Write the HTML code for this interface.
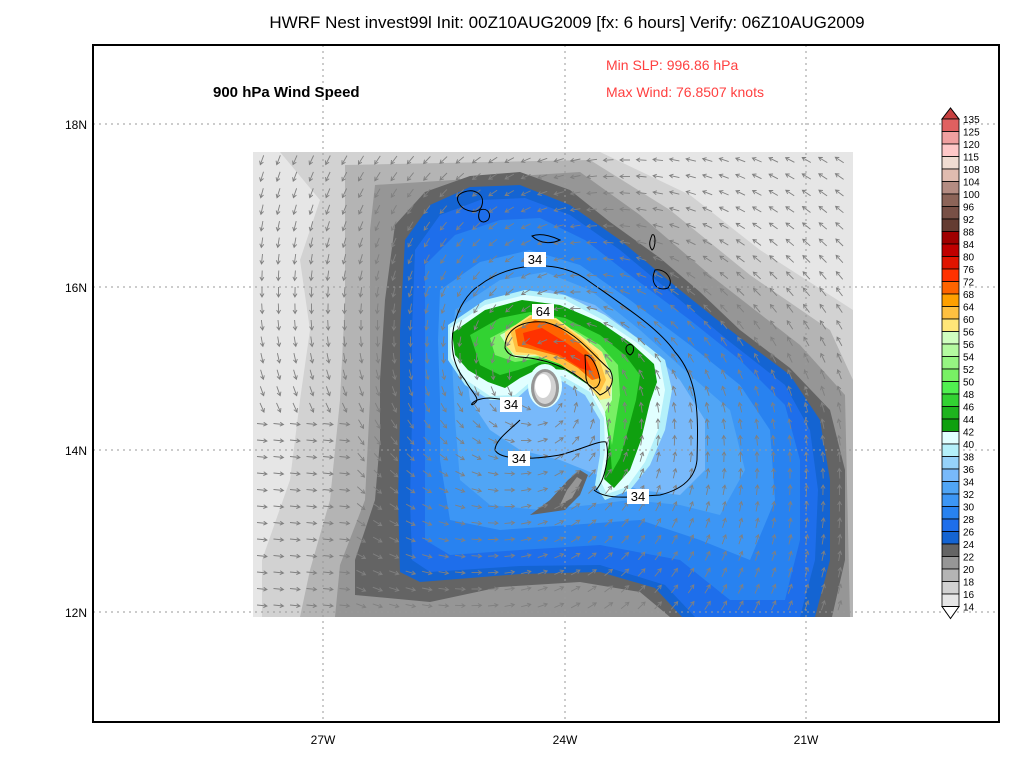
<!DOCTYPE html>
<html><head><meta charset="utf-8"><style>
body{margin:0;background:#fff;width:1024px;height:768px;overflow:hidden}
svg text{font-family:"Liberation Sans",sans-serif}
</style></head><body>
<svg id="s" width="1024" height="768" xmlns="http://www.w3.org/2000/svg">
<rect width="1024" height="768" fill="#fff"/>
<text x="567" y="28" font-size="17" text-anchor="middle">HWRF  Nest  invest99l  Init: 00Z10AUG2009  [fx: 6  hours]  Verify: 06Z10AUG2009</text>
<rect x="253" y="152" width="600" height="465" fill="#e6e6e6"/>
<polygon fill="#d2d2d2" points="280,152 600,152 690,195 760,250 853,310 853,617 262,617 262,560 290,480 300,400 310,330 300,260 320,200"/>
<polygon fill="#b4b4b4" points="345,165 590,160 670,210 750,275 830,330 853,380 853,617 300,617 310,570 330,500 340,400 345,300 345,230"/>
<polygon fill="#969696" points="375,185 580,172 640,215 710,275 800,345 845,395 850,617 335,617 340,565 365,500 370,400 370,300 370,230"/>
<polygon fill="#646464" points="395,225 425,192 470,176 520,172 570,190 610,222 660,258 700,292 740,330 790,368 830,410 845,470 845,560 832,617 670,617 640,592 580,582 500,587 430,602 355,595 355,560 375,500 380,440 380,380 385,300"/>
<polygon fill="#1464d2" points="405,240 430,205 470,187 520,185 570,205 620,240 680,290 730,330 790,375 820,420 830,480 830,560 815,617 682,617 655,588 600,572 520,574 420,582 400,572 398,500 400,420 400,330"/>
<polygon fill="#1e6eeb" points="415,250 440,215 480,200 525,198 570,215 620,250 680,300 730,342 785,385 810,430 818,490 815,560 800,617 695,617 665,585 600,565 520,566 430,572 412,560 410,500 412,420 412,330"/>
<polygon fill="#2882f0" points="425,265 455,235 500,220 540,218 585,240 630,275 690,320 740,360 785,405 800,460 800,540 785,600 730,600 680,560 600,545 520,550 450,555 425,540 425,470 425,400 425,330"/>
<polygon fill="#3c96f5" points="440,290 480,262 530,250 580,265 630,300 690,345 740,385 770,430 775,500 750,560 700,540 640,520 570,525 500,530 450,520 440,460 440,400 438,340"/>
<polygon fill="#50a5f5" points="455,310 500,280 545,272 590,290 640,330 690,375 730,410 745,470 720,515 680,505 630,500 590,505 540,510 490,505 460,480 455,420 452,360"/>
<polygon fill="#78b9fa" points="470,320 510,295 550,290 595,305 640,340 680,380 705,420 705,470 680,495 640,490 610,480 560,460 520,450 490,430 470,400 465,360"/>
<polygon fill="#b4f0fa" points="448,325 485,300 525,290 565,295 605,315 640,340 665,360 672,390 665,430 650,465 630,490 605,500 595,485 600,455 600,420 585,395 560,380 535,382 515,400 490,400 465,385 448,360"/>
<polygon fill="#e1ffff" points="450,328 485,305 525,295 565,300 603,320 636,342 660,362 665,390 658,430 645,462 627,487 607,494 600,480 605,450 604,418 590,392 562,376 535,378 515,395 490,396 466,380 451,358"/>
<polygon fill="#0fa00f" points="452,333 485,310 522,300 560,305 600,322 632,344 654,364 657,382 650,402 641,440 630,470 614,488 604,479 609,442 605,410 590,386 565,370 540,368 520,378 505,388 488,382 468,370 455,355"/>
<polygon fill="#32d232" points="470,335 500,318 530,312 565,318 600,335 625,355 640,375 636,400 628,430 620,458 612,472 610,445 605,410 590,383 565,366 540,362 518,370 500,375 480,365"/>
<polygon fill="#78f064" points="490,338 515,325 545,322 575,330 600,345 618,365 620,395 615,425 612,445 605,410 590,380 565,362 540,358 515,362 495,355"/>
<polygon fill="#d0ffc0" points="500,335 525,322 555,322 580,335 602,352 612,375 612,400 605,412 590,382 565,362 540,356 515,358"/>
<polygon fill="#ffe678" points="505,332 530,315 556,318 582,337 602,352 612,380 610,398 600,400 585,382 560,364 535,355 515,355 505,345"/>
<polygon fill="#ffc040" points="510,330 532,316 556,320 580,338 598,355 606,380 600,392 585,380 560,364 535,354 516,352"/>
<polygon fill="#ff6400" points="515,330 535,320 556,325 578,342 594,358 600,378 592,380 578,368 558,356 535,350 518,346"/>
<polygon fill="#ff3200" points="523,333 542,328 565,342 585,356 592,372 580,368 560,355 538,348 525,343"/>
<polygon fill="#646464" points="580,470 588,475 580,495 565,510 530,515 550,500 568,480"/>
<polygon fill="#969696" points="577,477 582,480 572,498 560,505 567,490"/>
<g id="arr" stroke="#808080" stroke-width="0.9" fill="none"></g>
<ellipse cx="545" cy="386" rx="17" ry="22" fill="#e1ffff"/>
<ellipse cx="545" cy="388" rx="14" ry="19" fill="#969696"/>
<ellipse cx="545" cy="388" rx="11" ry="16" fill="#d2d2d2"/>
<ellipse cx="543" cy="386" rx="8" ry="12" fill="#fff"/>
<g fill="none" stroke="#000" stroke-width="1">
<path d="M465,380 C440,350 455,300 480,285 C510,262 560,258 590,282 C630,310 660,330 675,352 C700,380 698,420 697,460 C695,480 680,490 660,495 L630,497 C610,498 600,495 594,490"/>
<path d="M465,380 C470,390 480,398 476,402 C468,410 470,398 490,398 L508,400"/>
<path d="M520,420 C510,430 495,440 495,450 C500,460 530,460 560,455 C580,450 600,440 606,442 C610,455 605,480 596,490"/>
<path d="M505,348 C505,330 520,320 545,322 C575,330 590,352 610,370 C615,380 612,390 600,395 C585,380 565,365 540,360 C520,355 510,360 505,348 Z"/>
<path d="M585,355 C592,355 598,368 600,380 C598,392 588,390 586,378 Z"/>
<path d="M464,192 C475,188 485,195 482,205 C480,215 465,212 460,205 C455,198 458,194 464,192 Z"/>
<path d="M480,210 C488,207 492,215 488,220 C482,225 476,220 480,210 Z"/>
<path d="M532,236 C542,232 556,238 560,240 C552,244 540,244 532,236 Z"/>
<path d="M652,235 C656,232 656,248 652,250 C648,245 650,240 652,235 Z"/>
<path d="M655,270 C665,268 675,280 668,288 C656,292 650,282 655,270 Z"/>
<path d="M628,345 C634,342 636,352 630,355 C625,352 625,347 628,345 Z"/>
</g>
<g font-size="13" text-anchor="middle">
<rect x="524" y="252" width="22" height="15" fill="#fff"/><text x="535" y="264">34</text>
<rect x="532" y="304" width="22" height="15" fill="#fff"/><text x="543" y="316">64</text>
<rect x="500" y="397" width="22" height="15" fill="#fff"/><text x="511" y="409">34</text>
<rect x="508" y="451" width="22" height="15" fill="#fff"/><text x="519" y="463">34</text>
<rect x="627" y="489" width="22" height="15" fill="#fff"/><text x="638" y="501">34</text>
</g>
<g stroke="#999" stroke-dasharray="2,4" stroke-width="1">
<line x1="323" y1="45" x2="323" y2="722"/><line x1="565" y1="45" x2="565" y2="722"/><line x1="806" y1="45" x2="806" y2="722"/>
<line x1="93" y1="124" x2="999" y2="124"/><line x1="93" y1="287" x2="999" y2="287"/><line x1="93" y1="450" x2="999" y2="450"/><line x1="93" y1="612" x2="999" y2="612"/>
</g>
<rect x="93" y="45" width="906" height="677" fill="none" stroke="#000" stroke-width="2"/>
<g font-size="12" text-anchor="end"><text x="87" y="129">18N</text><text x="87" y="292">16N</text><text x="87" y="455">14N</text><text x="87" y="617">12N</text></g>
<g font-size="12" text-anchor="middle"><text x="323" y="744">27W</text><text x="565" y="744">24W</text><text x="806" y="744">21W</text></g>
<text x="213" y="97" font-size="15" font-weight="bold">900 hPa Wind Speed</text>
<text x="606" y="70" font-size="14" fill="#ff4040">Min SLP: 996.86 hPa</text>
<text x="606" y="97" font-size="14" fill="#ff4040">Max Wind: 76.8507 knots</text>
<g id="cb"></g>
</svg>
<script>
var cols=["#e06060","#f0a0a0","#ffc8c8","#f0dcd2","#e0bcb0","#b48c82","#8c6458","#785046","#643c32","#a00000","#c00000","#e01400","#ff3200","#ff6400","#ffa000","#ffc040","#ffe678","#d0ffc0","#b4faa0","#96f582","#78f064","#50f050","#32d232","#1eb41e","#0fa00f","#e1ffff","#b4f0fa","#96d2fa","#78b9fa","#50a5f5","#3c96f5","#2882f0","#1e6eeb","#1464d2","#646464","#969696","#b4b4b4","#d2d2d2","#e6e6e6"];
var labs=["135","125","120","115","108","104","100","96","92","88","84","80","76","72","68","64","60","56","56","54","52","50","48","46","44","42","40","38","36","34","32","30","28","26","24","22","20","18","16","14"];
var cb=document.getElementById("cb"),h="";
var x0=942,w=17,y0=119,dy=12.5;
h+='<polygon points="'+x0+','+y0+' '+(x0+w)+','+y0+' '+(x0+w/2)+','+(y0-11)+'" fill="#c84040" stroke="#000"/>';
for(var i=0;i<cols.length;i++){h+='<rect x="'+x0+'" y="'+(y0+i*dy)+'" width="'+w+'" height="'+dy+'" fill="'+cols[i]+'" stroke="#000" stroke-width="0.8"/>';}
var yb=y0+39*dy;
h+='<polygon points="'+x0+','+yb+' '+(x0+w)+','+yb+' '+(x0+w/2)+','+(yb+12)+'" fill="#fff" stroke="#000"/>';
for(var i=0;i<labs.length;i++){h+='<text x="'+(x0+w+4)+'" y="'+(y0+i*dy+4)+'" font-size="10">'+labs[i]+'</text>';}
cb.innerHTML=h;
var a="",cx=545,cy=388;
for(var y=160;y<612;y+=16.5){for(var x=262;x<850;x+=16.5){
var dx=x-cx,dyy=y-cy,r=Math.sqrt(dx*dx+dyy*dyy)+1;
if(r<25)continue;
var vx=dyy/r,vy=-dx/r;vx+=-dx/r*0.35;vy+=-dyy/r*0.35;
if(x<360&&y>420){vx=1;vy=0.1;}
var m=Math.sqrt(vx*vx+vy*vy);vx/=m;vy/=m;
var L=5,x1=x-vx*L,y1=y-vy*L,x2=x+vx*L,y2=y+vy*L;
var hx1=x2-vx*3.5+vy*2,hy1=y2-vy*3.5-vx*2,hx2=x2-vx*3.5-vy*2,hy2=y2-vy*3.5+vx*2;
a+='<path d="M'+x1.toFixed(1)+','+y1.toFixed(1)+'L'+x2.toFixed(1)+','+y2.toFixed(1)+'M'+hx1.toFixed(1)+','+hy1.toFixed(1)+'L'+x2.toFixed(1)+','+y2.toFixed(1)+'L'+hx2.toFixed(1)+','+hy2.toFixed(1)+'"/>';}}
document.getElementById("arr").innerHTML=a;
</script>
</body></html>
